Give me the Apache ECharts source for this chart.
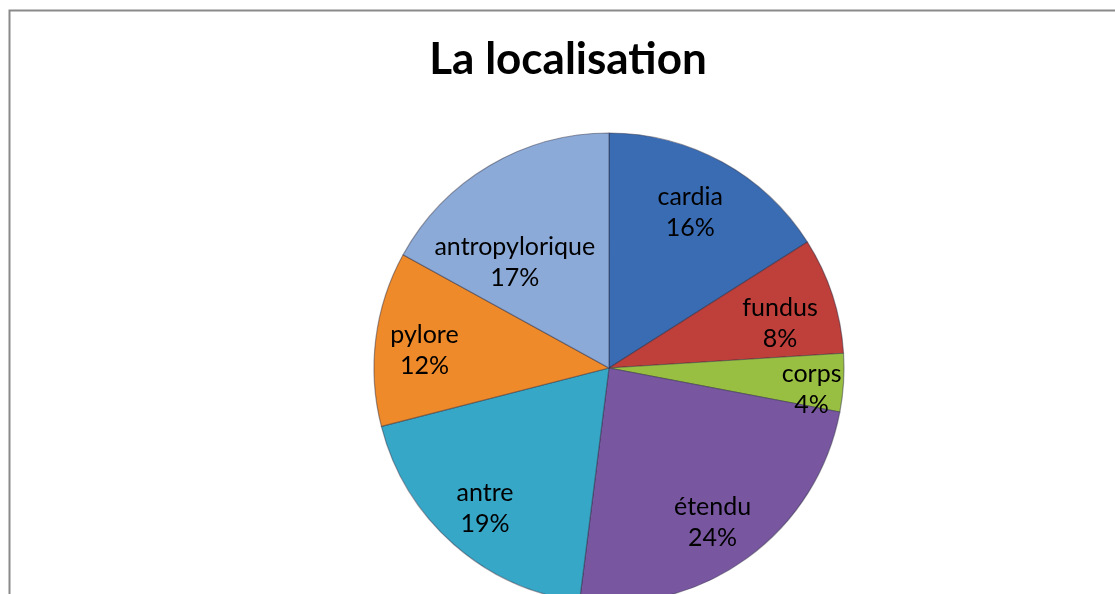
<!DOCTYPE html>
<html>
<head>
<meta charset="utf-8">
<script src="https://cdn.jsdelivr.net/npm/echarts@6/dist/echarts.min.js"></script>
<style>
html, body { margin: 0; padding: 0; background: #fff; }
#chart { width: 1115px; height: 594px; }
</style>
</head>
<body>
<div id="chart"></div>
<script>
// localisation -> pourcentage
var categories = ['cardia', 'fundus', 'corps', 'étendu', 'antre', 'pylore', 'antropylorique'];
var percents = [16, 8, 4, 24, 19, 12, 17];
var colors = ['#3a6cb3', '#bf3f3b', '#99bf42', '#7857a0', '#37a7c8', '#ef8a2b', '#8caad8'];
// petits décalages des étiquettes (comme dans Excel)
var labelShift = [[-7, 5], [-3, 12], [20, 10], [-4, 6], [-3, 3], [-3, 5], [-1, 52]];

var pieData = [];
var labelData = [];
for (var i = 0; i < categories.length; i++) {
	pieData.push({
		name: categories[i],
		value: percents[i],
		itemStyle: { color: colors[i] }
	});
	labelData.push({
		name: categories[i],
		value: percents[i],
		label: { offset: labelShift[i] }
	});
}

var ech = echarts.init(document.getElementById('chart'));
var option = {
	animation: false,
	title: {
		text: 'La localisation',
		left: 563,
		top: 33,
		textAlign: 'center',
		textStyle: {
			fontFamily: 'Lato',
			fontWeight: 'bold',
			fontSize: 44,
			color: '#000'
		}
	},
	graphic: [{
		type: 'rect',
		shape: { x: 9.5, y: 10.5, width: 1300, height: 800 },
		style: { fill: null, stroke: '#8a8a8a', lineWidth: 2 }
	}],
	series: [{
		type: 'pie',
		center: [609, 368],
		radius: [0, 235],
		startAngle: 90,
		clockwise: true,
		silent: true,
		label: { show: false },
		labelLine: { show: false },
		itemStyle: { borderColor: 'rgba(40,40,60,0.45)', borderWidth: 1.2 },
		data: pieData
	}, {
		type: 'pie',
		center: [609, 368],
		radius: [130, 230],
		startAngle: 90,
		clockwise: true,
		silent: true,
		itemStyle: { color: 'rgba(0,0,0,0)' },
		label: {
			show: true,
			position: 'inside',
			formatter: '{b}\n{c}%',
			fontFamily: 'Lato',
			fontSize: 25,
			lineHeight: 31,
			color: '#000'
		},
		data: labelData
	}]
};
ech.setOption(option);
</script>
</body>
</html>
